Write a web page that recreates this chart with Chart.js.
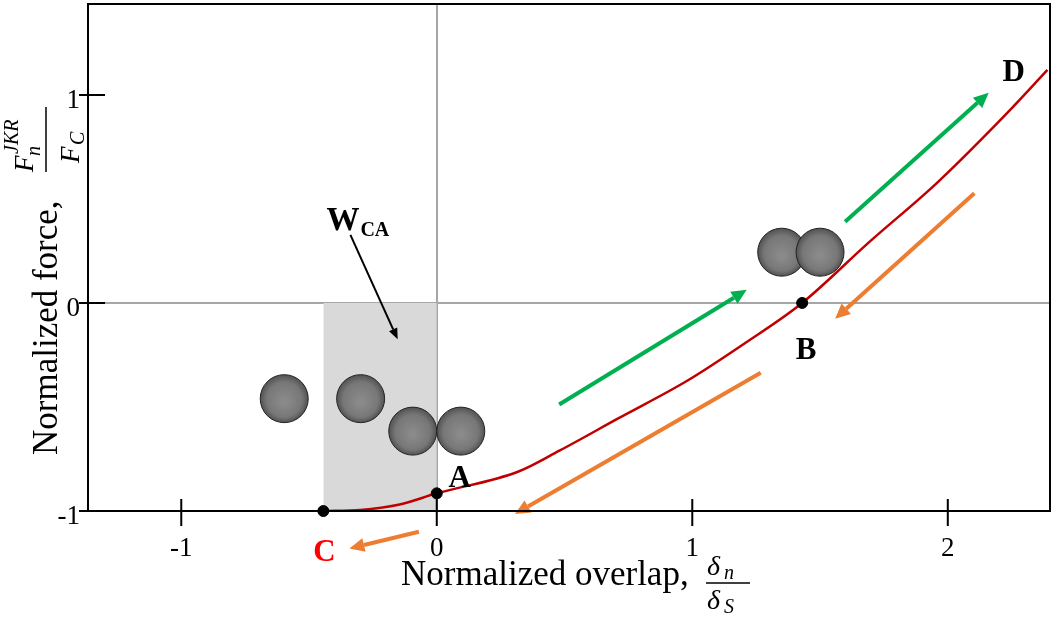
<!DOCTYPE html>
<html>
<head>
<meta charset="utf-8">
<script src="https://cdn.jsdelivr.net/npm/chart.js@4.4.1/dist/chart.umd.min.js"></script>
<style>
  html, body { margin: 0; padding: 0; background: #fff; }
  #wrap { width: 1060px; height: 620px; position: relative; }
</style>
</head>
<body>
<div id="wrap"><canvas id="chart"></canvas></div>
<script>
// JKR loading curve, normalized overlap vs normalized force
const curveX = [-0.444, -0.3, -0.15, 0, 0.32, 0.48, 0.71, 0.98, 1.21, 1.43, 1.69, 1.96, 2.23, 2.39]
const curveY = [-1.0, -0.995, -0.97, -0.915, -0.81, -0.71, -0.555, -0.374, -0.19, 0, 0.29, 0.58, 0.91, 1.12]

// marked states C, A, B
const pointNames = ["C", "A", "B"]
const pointX = [-0.444, 0, 1.43]
const pointY = [-1.0, -0.915, 0]

// work of adhesion area W_CA (from C to A, up to zero force)
const shadeX = [-0.444, 0]
const shadeY = [0, 0]

const xTicks = [-1, 0, 1, 2]
const yTicks = [-1, 0, 1]

const ctx = document.querySelector("#chart")

// annotation pieces, placed in data units
const spheres = [
    [-0.597, -0.46], [-0.298, -0.46], [-0.094, -0.616], [0.094, -0.616],
    [1.35, 0.244], [1.50, 0.244]
]
const arrows = [
    { from: [0.479, -0.488], to: [1.213, 0.063], color: "#00b050", w: 4 },
    { from: [1.598, 0.39], to: [2.16, 1.01], color: "#00b050", w: 4 },
    { from: [2.104, 0.527], to: [1.559, -0.076], color: "#ed7d31", w: 4 },
    { from: [1.268, -0.336], to: [0.306, -1.014], color: "#ed7d31", w: 4 },
    { from: [-0.07, -1.10], to: [-0.342, -1.18], color: "#ed7d31", w: 4 },
    { from: [-0.338, 0.327], to: [-0.153, -0.175], color: "#000", w: 2 }
]
const letters = [
    { t: "A", at: [0.09, -0.886], color: "#000" },
    { t: "B", at: [1.445, -0.27], color: "#000" },
    { t: "C", at: [-0.44, -1.242], color: "#ff0000" },
    { t: "D", at: [2.258, 1.068], color: "#000" }
]

function arrow(c, x1, y1, x2, y2, color, w) {
    const a = Math.atan2(y2 - y1, x2 - x1)
    const len = w > 2 ? 15 : 11
    const half = w > 2 ? 7 : 4.5
    const bx = x2 - len * Math.cos(a)
    const by = y2 - len * Math.sin(a)
    c.strokeStyle = color
    c.fillStyle = color
    c.lineWidth = w
    c.beginPath()
    c.moveTo(x1, y1)
    c.lineTo(bx, by)
    c.stroke()
    c.beginPath()
    c.moveTo(x2, y2)
    c.lineTo(bx + half * Math.sin(a), by - half * Math.cos(a))
    c.lineTo(bx - half * Math.sin(a), by + half * Math.cos(a))
    c.closePath()
    c.fill()
}

function sphere(c, x, y, r) {
    const g = c.createRadialGradient(x, y + r * 0.15, r * 0.1, x, y, r)
    g.addColorStop(0, "#8a8a8a")
    g.addColorStop(0.7, "#777777")
    g.addColorStop(1, "#525252")
    c.fillStyle = g
    c.beginPath()
    c.arc(x, y, r, 0, Math.PI * 2)
    c.fill()
    c.strokeStyle = "#222"
    c.lineWidth = 1
    c.stroke()
}

const decorations = {
    id: "decorations",
    afterDatasetsDraw(chart) {
        const c = chart.ctx
        const sx = chart.scales.x
        const sy = chart.scales.y
        const px = (v) => sx.getPixelForValue(v)
        const py = (v) => sy.getPixelForValue(v)
        c.save()

        for (const s of spheres) sphere(c, px(s[0]), py(s[1]), 24)
        for (const a of arrows) arrow(c, px(a.from[0]), py(a.from[1]), px(a.to[0]), py(a.to[1]), a.color, a.w)

        c.textBaseline = "alphabetic"
        c.textAlign = "center"
        c.font = "bold 31px 'Liberation Serif'"
        for (const l of letters) {
            c.fillStyle = l.color
            c.fillText(l.t, px(l.at[0]), py(l.at[1]))
        }

        // W_CA label
        c.textAlign = "left"
        c.fillStyle = "#000"
        c.font = "bold 33px 'Liberation Serif'"
        const wx = px(-0.432)
        const wy = py(0.351)
        c.fillText("W", wx, wy)
        const ww = c.measureText("W").width
        c.font = "bold 20px 'Liberation Serif'"
        c.fillText("CA", wx + ww + 1, wy + 6)
        c.restore()
    },
    afterDraw(chart) {
        const c = chart.ctx
        const area = chart.chartArea
        const sx = chart.scales.x
        const sy = chart.scales.y
        c.save()

        // frame
        c.strokeStyle = "#000"
        c.lineWidth = 2
        c.strokeRect(area.left, area.top, area.right - area.left, area.bottom - area.top)

        // ticks crossing the axes
        c.beginPath()
        for (const t of xTicks) {
            const x = sx.getPixelForValue(t)
            c.moveTo(x, area.bottom - 12)
            c.lineTo(x, area.bottom + 15)
        }
        for (const t of yTicks) {
            const y = sy.getPixelForValue(t)
            c.moveTo(area.left - 9, y)
            c.lineTo(area.left + 17, y)
        }
        c.stroke()

        c.fillStyle = "#000"
        c.textBaseline = "alphabetic"
        c.textAlign = "left"

        // x title
        c.font = "35px 'Liberation Serif'"
        c.fillText("Normalized overlap,", 401, 585)
        c.font = "italic 28px 'Liberation Serif'"
        c.fillText("δ", 707, 575)
        c.fillText("δ", 707, 609)
        c.font = "italic 20px 'Liberation Serif'"
        c.fillText("n", 724, 579)
        c.fillText("S", 724, 613)
        c.lineWidth = 1.5
        c.beginPath()
        c.moveTo(706, 583)
        c.lineTo(750, 583)
        c.stroke()

        // y title, rotated
        c.translate(57, 455)
        c.rotate(-Math.PI / 2)
        c.font = "35px 'Liberation Serif'"
        c.fillText("Normalized force,", 0, 0)
        c.font = "italic 27px 'Liberation Serif'"
        c.fillText("F", 283, -24)
        c.fillText("F", 292, 22)
        c.font = "italic 20px 'Liberation Serif'"
        c.fillText("n", 299, -17)
        c.fillText("C", 310, 27)
        c.fillText("JKR", 301, -39)
        c.beginPath()
        c.moveTo(283, -11)
        c.lineTo(348, -11)
        c.stroke()
        c.restore()
    }
}

new Chart(ctx, {
    type: "scatter",
    data: {
        datasets: [
            {
                data: shadeX.map((x, i) => ({ x: x, y: shadeY[i] })),
                showLine: true,
                fill: { value: -1 },
                backgroundColor: "#d9d9d9",
                borderWidth: 0,
                pointRadius: 0,
                order: 3
            },
            {
                data: curveX.map((x, i) => ({ x: x, y: curveY[i] })),
                showLine: true,
                borderColor: "#c00000",
                borderWidth: 2.5,
                cubicInterpolationMode: "monotone",
                pointRadius: 0,
                order: 2
            },
            {
                label: pointNames.join(","),
                data: pointX.map((x, i) => ({ x: x, y: pointY[i] })),
                backgroundColor: "#000",
                borderColor: "#000",
                pointRadius: 5.5,
                clip: 10,
                order: 1
            }
        ]
    },
    options: {
        responsive: true,
        maintainAspectRatio: false,
        animation: false,
        layout: { autoPadding: false, padding: { left: 0, top: 4, right: 10, bottom: 0 } },
        plugins: { legend: { display: false }, tooltip: { enabled: false } },
        scales: {
            x: {
                type: "linear",
                min: -1.365,
                max: 2.4,
                afterBuildTicks: (s) => { s.ticks = xTicks.map((v) => ({ value: v })) },
                afterFit: (s) => { s.height = 109; s.paddingLeft = 0; s.paddingRight = 0 },
                border: { display: false },
                grid: {
                    drawTicks: false,
                    lineWidth: 2,
                    color: (g) => g.tick && g.tick.value === 0 ? "#a6a6a6" : "rgba(0,0,0,0)"
                },
                ticks: {
                    padding: 22,
                    color: "#000",
                    font: { family: "'Liberation Serif'", size: 27 }
                }
            },
            y: {
                type: "linear",
                min: -1,
                max: 1.437,
                afterBuildTicks: (s) => { s.ticks = yTicks.map((v) => ({ value: v })) },
                afterFit: (s) => { s.width = 88; s.paddingTop = 0; s.paddingBottom = 0 },
                border: { display: false },
                grid: {
                    drawTicks: false,
                    lineWidth: 2,
                    color: (g) => g.tick && g.tick.value === 0 ? "#a6a6a6" : "rgba(0,0,0,0)"
                },
                ticks: {
                    padding: 8,
                    labelOffset: 6,
                    color: "#000",
                    font: { family: "'Liberation Serif'", size: 27 }
                }
            }
        }
    },
    plugins: [decorations]
})
</script>
</body>
</html>
